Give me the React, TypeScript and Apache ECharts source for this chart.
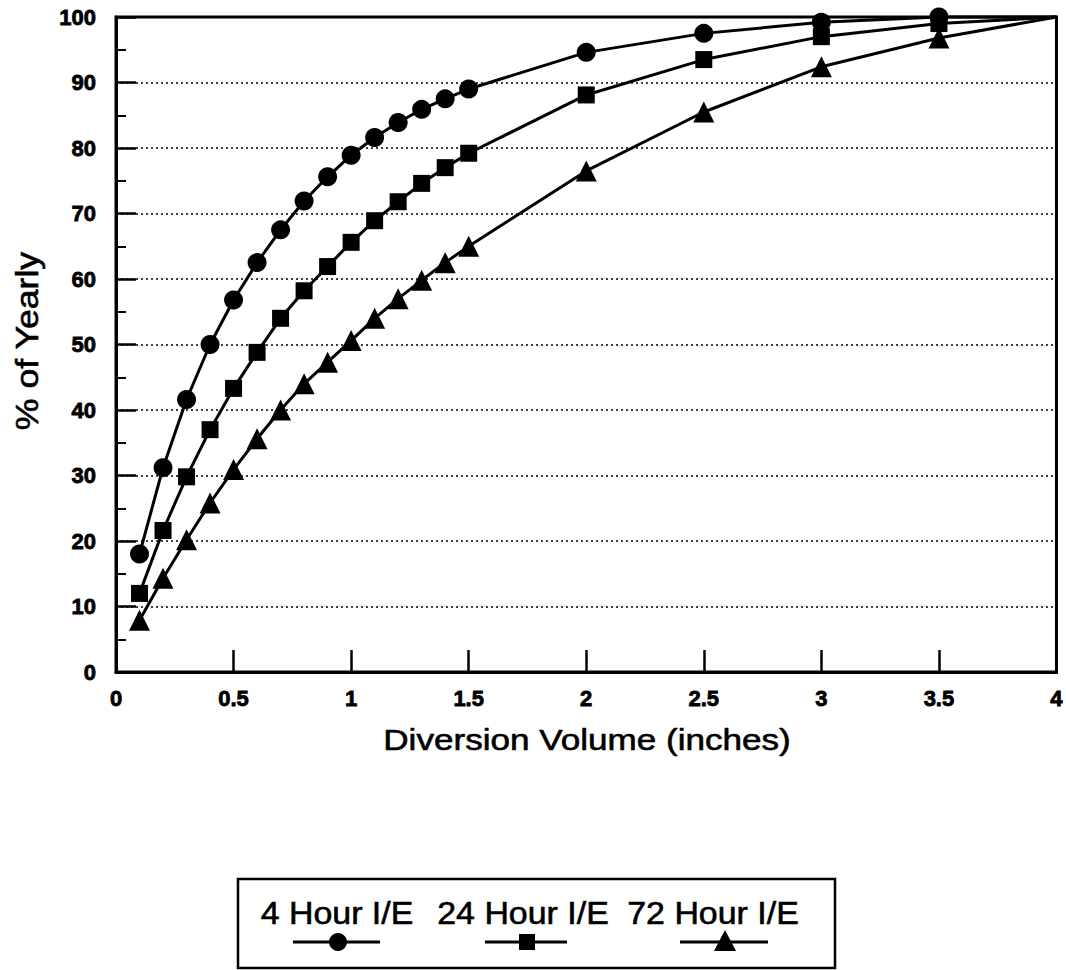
import React, { useEffect, useRef } from "react";
import * as echarts from "echarts";

const xValues = [0.1, 0.2, 0.3, 0.4, 0.5, 0.6, 0.7, 0.8, 0.9, 1.0, 1.1, 1.2, 1.3, 1.4, 1.5, 2.0, 2.5, 3.0, 3.5, 4.0];
const fourHour = [18, 31.2, 41.6, 50, 56.8, 62.5, 67.5, 71.9, 75.6, 78.9, 81.6, 83.9, 85.9, 87.5, 89, 94.6, 97.5, 99.2, 100, 100];
const twentyFourHour = [12, 21.6, 29.8, 37, 43.3, 48.8, 54, 58.2, 61.9, 65.6, 68.9, 71.8, 74.6, 77, 79.2, 88.1, 93.5, 97, 99, 100];
const seventyTwoHour = [7.9, 14.3, 20.2, 25.8, 30.9, 35.6, 40, 44, 47.3, 50.6, 54, 57, 59.8, 62.5, 65, 76.5, 85.5, 92.4, 96.8, 100];

const seriesNames = ["4 Hour I/E", "24 Hour I/E", "72 Hour I/E"];
const seriesSymbols = ["circle", "rect", "triangle"];
const seriesSizes = [19, 17, 21];
const seriesValues = [fourHour, twentyFourHour, seventyTwoHour];

const xTitle = "Diversion Volume (inches)";
const yTitle = "% of Yearly";

const FONT = "Arial, 'Liberation Sans', Helvetica, sans-serif";

export default function App() {
  const ref = useRef<HTMLDivElement>(null);
  useEffect(() => {
    document.body.style.margin = "0";
    if (!ref.current) return;
    const chart = echarts.init(ref.current, null, { renderer: "svg" });

    const series = seriesNames.map((name, i) => ({
      name,
      type: "line",
      symbol: seriesSymbols[i],
      symbolSize: seriesSizes[i],
      color: "#000",
      lineStyle: { color: "#000", width: 3 },
      itemStyle: { color: "#000" },
      clip: false,
      z: 5 - i,
      data: xValues.map((x, j) => ({
        value: [x, seriesValues[i][j]],
        symbolSize: j === xValues.length - 1 ? 0 : seriesSizes[i],
      })),
    }));

    const legendCenters = [337, 523, 713];
    const markerCenters = [338, 527, 725];
    const lineSpans = [
      [293, 380],
      [485, 567],
      [680, 768],
    ];
    const legendGraphics: any[] = [
      {
        type: "rect",
        shape: { x: 238, y: 879, width: 597, height: 89 },
        style: { fill: "none", stroke: "#000", lineWidth: 2.5 },
      },
    ];
    seriesNames.forEach((name, i) => {
      legendGraphics.push({
        type: "text",
        x: legendCenters[i],
        y: 913,
        scaleX: 1.06,
        style: {
          text: name,
          font: `32px ${FONT}`,
          fill: "#000",
          stroke: "#000",
          lineWidth: 0.6,
          align: "center",
          verticalAlign: "middle",
        },
      });
      legendGraphics.push({
        type: "line",
        shape: { x1: lineSpans[i][0], y1: 942, x2: lineSpans[i][1], y2: 942 },
        style: { stroke: "#000", lineWidth: 3 },
      });
      const cx = markerCenters[i];
      if (i === 0) {
        legendGraphics.push({ type: "circle", shape: { cx, cy: 942, r: 9 }, style: { fill: "#000" } });
      } else if (i === 1) {
        legendGraphics.push({ type: "rect", shape: { x: cx - 8, y: 934, width: 16, height: 16 }, style: { fill: "#000" } });
      } else {
        legendGraphics.push({
          type: "polygon",
          shape: { points: [[cx, 930], [cx + 11, 951], [cx - 11, 951]] },
          style: { fill: "#000" },
        });
      }
    });

    chart.setOption({
      animation: false,
      backgroundColor: "#fff",
      grid: {
        left: 116,
        top: 17,
        width: 946,
        height: 655,
        show: true,
        borderColor: "#000",
        borderWidth: 3,
        backgroundColor: "transparent",
      },
      xAxis: {
        type: "value",
        min: 0,
        max: 4,
        interval: 0.5,
        axisLine: { show: true, lineStyle: { color: "#000", width: 3 } },
        axisTick: { show: true, inside: true, length: 22, lineStyle: { color: "#000", width: 2.5 } },
        axisLabel: {
          color: "#000",
          fontFamily: FONT,
          fontWeight: "bold",
          fontSize: 22,
          margin: 15,
          textBorderColor: "#000",
          textBorderWidth: 0.8,
          showMaxLabel: true,
        },
        splitLine: { show: false },
      },
      yAxis: {
        type: "value",
        min: 0,
        max: 100,
        interval: 10,
        axisLine: { show: true, lineStyle: { color: "#000", width: 3 } },
        axisTick: { show: true, inside: true, length: 20, lineStyle: { color: "#000", width: 2.5 } },
        minorTick: { show: true, splitNumber: 2, length: 10, lineStyle: { color: "#000", width: 2 } },
        axisLabel: {
          color: "#000",
          fontFamily: FONT,
          fontWeight: "bold",
          fontSize: 22,
          margin: 20,
          textBorderColor: "#000",
          textBorderWidth: 0.8,
        },
        splitLine: { show: true, lineStyle: { color: "#000", width: 1.5, type: [2, 3] } },
      },
      series,
      graphic: [
        {
          type: "text",
          x: 587,
          y: 739,
          scaleX: 1.17,
          style: {
            text: xTitle,
            font: `30px ${FONT}`,
            fill: "#000",
            stroke: "#000",
            lineWidth: 0.6,
            align: "center",
            verticalAlign: "middle",
          },
        },
        {
          type: "text",
          x: 27,
          y: 341,
          rotation: Math.PI / 2,
          scaleX: 1.15,
          style: {
            text: yTitle,
            font: `31px ${FONT}`,
            fill: "#000",
            stroke: "#000",
            lineWidth: 0.6,
            align: "center",
            verticalAlign: "middle",
          },
        },
        ...legendGraphics,
      ],
    });
    return () => chart.dispose();
  }, []);
  return <div ref={ref} style={{ width: 1066, height: 970 }} />;
}
